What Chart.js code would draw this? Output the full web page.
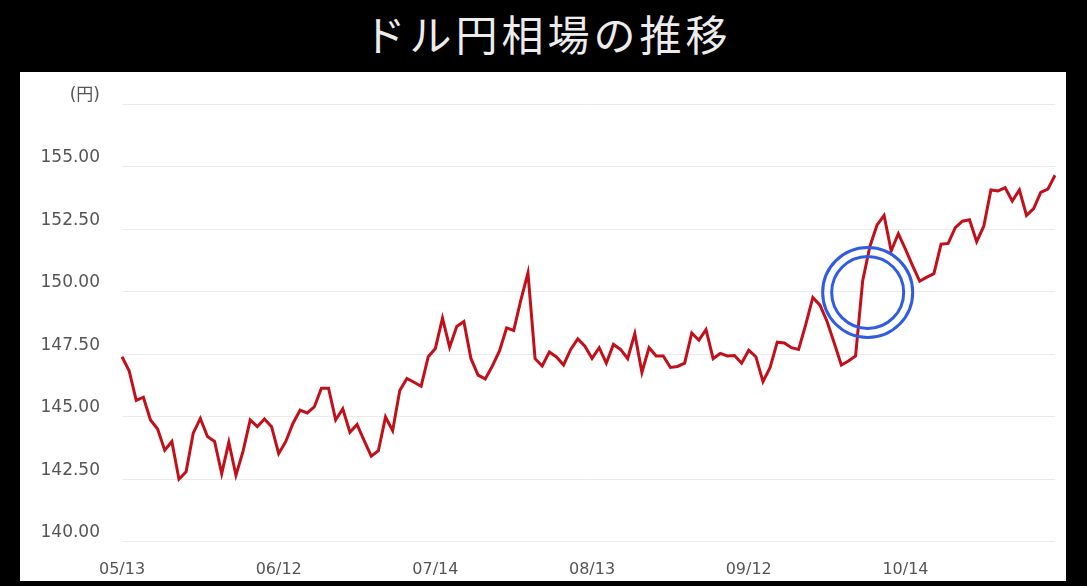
<!DOCTYPE html>
<html>
<head>
<meta charset="utf-8">
<script src="https://cdn.jsdelivr.net/npm/chart.js@4"></script>
<style>
  body { margin: 0; background: #000; width: 1087px; height: 586px; overflow: hidden; }
  #title { position: absolute; left: 0; top: 8px; width: 1087px; padding-left: 8px; box-sizing: border-box;
           text-align: center; color: #ececec; font: 400 42px "Noto Sans CJK JP", sans-serif;
           line-height: 50px; letter-spacing: 4px; }
  #panel { position: absolute; left: 20px; top: 72px; width: 1046px; height: 509px; background: #fff; }
</style>
</head>
<body>
<div id="title">ドル円相場の推移</div>
<div id="panel"><canvas id="rateChart"></canvas></div>
<script>
// USD/JPY daily close, 05/13 -> mid Nov (business days)
const rate = [
  147.40, 146.84, 145.65, 145.78, 144.87, 144.51, 143.66, 144.01, 142.50, 142.80,
  144.34, 144.93, 144.21, 144.01, 142.72, 143.98, 142.66, 143.62, 144.87, 144.60,
  144.91, 144.60, 143.52, 144.01, 144.73, 145.26, 145.15, 145.39, 146.14, 146.14,
  144.87, 145.32, 144.38, 144.69, 144.04, 143.42, 143.64, 144.99, 144.44, 146.05,
  146.53, 146.38, 146.22, 147.40, 147.73, 148.94, 147.78, 148.61, 148.81, 147.32,
  146.66, 146.51, 147.03, 147.63, 148.55, 148.45, 149.66, 150.75, 147.32, 147.03,
  147.59, 147.39, 147.07, 147.69, 148.11, 147.82, 147.33, 147.76, 147.14, 147.89,
  147.69, 147.32, 148.32, 146.77, 147.76, 147.43, 147.43, 146.97, 147.01, 147.14,
  148.35, 148.06, 148.48, 147.32, 147.53, 147.43, 147.45, 147.14, 147.66, 147.40,
  146.40, 146.97, 147.98, 147.95, 147.76, 147.69, 148.68, 149.77, 149.46, 148.81,
  147.95, 147.07, 147.23, 147.43, 150.44, 151.80, 152.66, 153.05, 151.63, 152.32,
  151.70, 151.04, 150.42, 150.58, 150.72, 151.90, 151.93, 152.56, 152.82, 152.88,
  152.00, 152.62, 154.07, 154.03, 154.16, 153.63, 154.07, 153.05, 153.32, 153.97,
  154.10, 154.66
]
// date labels shown every 22 business days
const xTickLabels = ['05/13', '06/12', '07/14', '08/13', '09/12', '10/14']
const xTickEvery = 22
const yMin = 140
const yMax = 157.5
const yStep = 2.5
const yUnit = '(円)'
// the circled point (jump after the mid-Oct move)
const highlight = { index: 104.7, value: 149.97 }

const labels = rate.map((_, i) => i)

const circlePlugin = {
  id: 'circle',
  afterDatasetsDraw(chart) {
    const ctx = chart.ctx
    const x = chart.scales.x.getPixelForValue(highlight.index)
    const y = chart.scales.y.getPixelForValue(highlight.value)
    ctx.save()
    ctx.strokeStyle = '#2f5ce0'
    ctx.lineWidth = 3
    ;[45, 36].forEach(r => {
      ctx.beginPath()
      ctx.arc(x, y, r, 0, Math.PI * 2)
      ctx.stroke()
    })
    ctx.restore()
  }
}

let rateChart = new Chart(document.getElementById('rateChart').getContext('2d'), {
  type: 'line',
  data: {
    labels: labels,
    datasets: [{
      data: rate,
      borderColor: '#c2101a',
      borderWidth: 3,
      pointRadius: 0,
      fill: false,
      tension: 0
    }]
  },
  options: {
    responsive: true,
    maintainAspectRatio: false,
    animation: false,
    layout: { padding: { left: 0, right: 9, top: 25, bottom: 0 } },
    plugins: { legend: { display: false }, tooltip: { enabled: false } },
    scales: {
      x: {
        grid: { display: false },
        border: { display: false },
        afterFit(scale) { scale.height = 39.3 },
        ticks: {
          autoSkip: false,
          maxRotation: 0,
          minRotation: 0,
          padding: 11,
          color: '#555',
          font: { family: '"DejaVu Sans", "Noto Sans CJK JP"', size: 16 },
          callback: (v, i) => (i % xTickEvery === 0 ? xTickLabels[i / xTickEvery] || '' : '')
        }
      },
      y: {
        min: yMin,
        max: yMax,
        border: { display: false },
        grid: { color: '#ebebeb', drawTicks: false },
        afterFit(scale) { scale.width = 102 },
        ticks: {
          stepSize: yStep,
          padding: 22,
          labelOffset: -9,
          color: '#555',
          font: { family: '"DejaVu Sans", "Noto Sans CJK JP"', size: 17 },
          callback: v => (v === yMax ? yUnit : v.toFixed(2))
        }
      }
    }
  },
  plugins: [circlePlugin]
})
</script>
</body>
</html>
